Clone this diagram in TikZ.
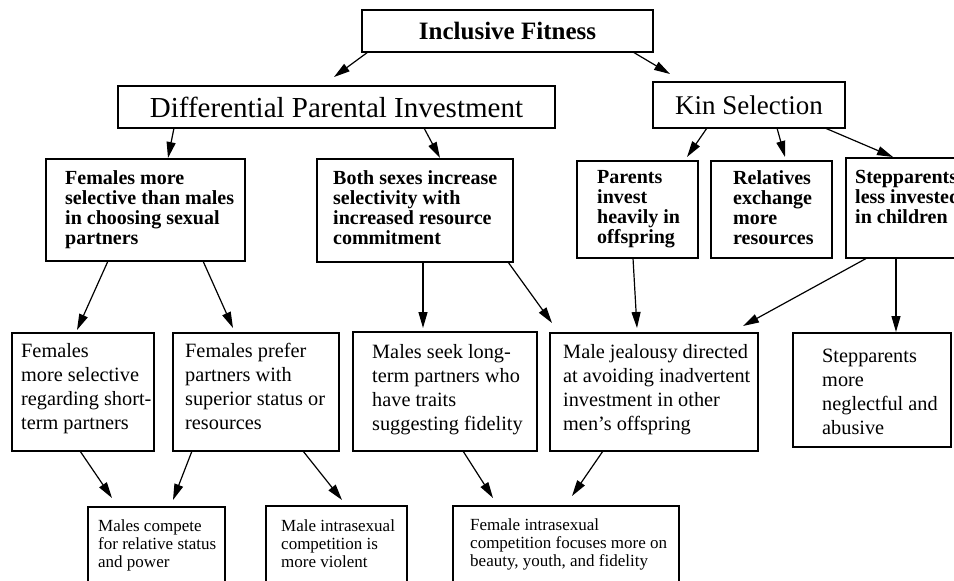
\documentclass[tikz,border=0pt]{standalone}
\usepackage{fontspec}
\setmainfont{Liberation Serif}
\usetikzlibrary{arrows.meta,calc}
\begin{document}
\begin{tikzpicture}[x=1pt,y=-1pt,
  frame/.style={draw,line width=1.3pt,rectangle,inner sep=0pt,outer sep=0pt,anchor=north west},
  toptext/.style={font=\fontsize{25}{28}\selectfont\bfseries},
  headtext/.style={font=\fontsize{29}{32}\selectfont},
  kintext/.style={font=\fontsize{27}{30}\selectfont},
  boldlabel/.style={anchor=north west,inner sep=0pt,align=left,font=\fontsize{20}{20}\selectfont\bfseries},
  midlabel/.style={anchor=north west,inner sep=0pt,align=left,font=\fontsize{20.3}{24}\selectfont},
  lowlabel/.style={anchor=north west,inner sep=0pt,align=left,font=\fontsize{17}{18}\selectfont},
  arr/.style={line width=1.2pt,-{Triangle[length=16pt,width=9pt]}}
]
\clip (0,0) rectangle (954,581);

% top levels
\node[frame,minimum width=291pt,minimum height=42pt,toptext] (if) at (362,10) {Inclusive Fitness};
\node[frame,minimum width=437pt,minimum height=42pt,headtext] (dpi) at (118,86) {Differential Parental Investment};
\node[frame,minimum width=192pt,minimum height=46pt,kintext] (ks) at (653,82) {Kin Selection};

% second level
\node[frame,minimum width=199pt,minimum height=102pt] (fms) at (46,159) {};
\node[frame,minimum width=196pt,minimum height=103pt] (bs) at (317,159) {};
\node[frame,minimum width=121pt,minimum height=97pt] (par) at (577,161) {};
\node[frame,minimum width=121pt,minimum height=97pt] (rel) at (711,161) {};
\node[frame,minimum width=140pt,minimum height=100pt] (sl) at (846,158) {};

\node[boldlabel] (fmsT) at ($(fms.north west)+(19,11)$) {Females more\\selective than males\\in choosing sexual\\partners};
\node[boldlabel] (bsT) at ($(bs.north west)+(16,11)$) {Both sexes increase\\selectivity with\\increased resource\\commitment};
\node[boldlabel] (parT) at ($(par.north west)+(20,9)$) {Parents\\invest\\heavily in\\offspring};
\node[boldlabel] (relT) at ($(rel.north west)+(22,9)$) {Relatives\\exchange\\more\\resources};
\node[boldlabel] (slT) at ($(sl.north west)+(9,12)$) {Stepparents\\less invested\\in children};

% third level
\node[frame,minimum width=142pt,minimum height=118pt] (f1) at (12,333) {};
\node[frame,minimum width=166pt,minimum height=118pt] (f2) at (173,333) {};
\node[frame,minimum width=184pt,minimum height=119pt] (ms) at (353,332) {};
\node[frame,minimum width=208pt,minimum height=118pt] (mj) at (550,333) {};
\node[frame,minimum width=158pt,minimum height=114pt] (sm) at (793,333) {};

\node[midlabel] (f1T) at ($(f1.north west)+(9,10)$) {Females\\more selective\\regarding short-\\term partners};
\node[midlabel] (f2T) at ($(f2.north west)+(12,10)$) {Females prefer\\partners with\\superior status or\\resources};
\node[midlabel] (msT) at ($(ms.north west)+(19,12)$) {Males seek long-\\term partners who\\have traits\\suggesting fidelity};
\node[midlabel] (mjT) at ($(mj.north west)+(13,11)$) {Male jealousy directed\\at avoiding inadvertent\\investment in other\\men's offspring};
\node[midlabel] (smT) at ($(sm.north west)+(29,16)$) {Stepparents\\more\\neglectful and\\abusive};

% bottom level
\node[frame,minimum width=137pt,minimum height=100pt] (mc) at (88,507) {};
\node[frame,minimum width=141pt,minimum height=100pt] (mi) at (266,506) {};
\node[frame,minimum width=226pt,minimum height=100pt] (fi) at (453,506) {};

\node[lowlabel] (mcT) at ($(mc.north west)+(10,12)$) {Males compete\\for relative status\\and power};
\node[lowlabel] (miT) at ($(mi.north west)+(15,13)$) {Male intrasexual\\competition is\\more violent};
\node[lowlabel] (fiT) at ($(fi.north west)+(17,12)$) {Female intrasexual\\competition focuses more on\\beauty, youth, and fidelity};

% connectors
\draw[arr] ($(if.south west)+(6,0)$) -- ($(dpi.north west)+(216,-9)$);
\draw[arr] ($(if.south west)+(271,0)$) -- ($(ks.north west)+(17,-8)$);
\draw[arr] ($(dpi.south west)+(56,0)$) -- ($(fms.north west)+(122,-1)$);
\draw[arr] ($(dpi.south west)+(306,0)$) -- ($(bs.north west)+(123,-1)$);
\draw[arr] ($(ks.south west)+(54,0)$) -- ($(par.north west)+(110,-4)$);
\draw[arr] ($(ks.south west)+(124,0)$) -- ($(rel.north west)+(74,-4)$);
\draw[arr] ($(ks.south west)+(172,0)$) -- ($(sl.north west)+(47,-1)$);
\draw[arr] ($(fms.south west)+(62,0)$) -- ($(f1.north west)+(65,-3)$);
\draw[arr] ($(fms.south west)+(157,0)$) -- ($(f2.north west)+(60,-5)$);
\draw[arr] ($(bs.south west)+(106,0)$) -- ($(ms.north west)+(70,-4)$);
\draw[arr] ($(bs.south west)+(191,0)$) -- ($(mj.north west)+(2,-10)$);
\draw[arr] ($(par.south west)+(56,0)$) -- ($(mj.north west)+(87,-5)$);
\draw[arr] ($(sl.south west)+(21,0)$) -- ($(mj.north west)+(193,-7)$);
\draw[arr] ($(sl.south west)+(50,0)$) -- ($(sm.north west)+(103,-1)$);
\draw[arr] ($(f1.south west)+(68,0)$) -- ($(mc.north west)+(24,-9)$);
\draw[arr] ($(f2.south west)+(19,0)$) -- ($(mc.north west)+(85,-7)$);
\draw[arr] ($(f2.south west)+(130,0)$) -- ($(mi.north west)+(76,-6)$);
\draw[arr] ($(ms.south west)+(110,0)$) -- ($(fi.north west)+(40,-8)$);
\draw[arr] ($(mj.south west)+(53,0)$) -- ($(fi.north west)+(119,-10)$);
\end{tikzpicture}
\end{document}
